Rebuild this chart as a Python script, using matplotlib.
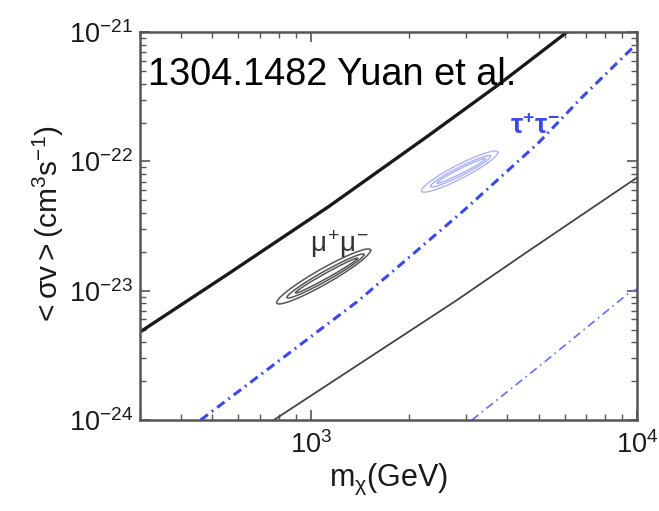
import matplotlib
matplotlib.use("Agg")
import matplotlib.pyplot as plt
import numpy as np

plt.rcParams['font.family'] = ['Liberation Sans', 'DejaVu Sans']
plt.rcParams['mathtext.fontset'] = 'custom'
plt.rcParams['mathtext.rm'] = 'Liberation Sans'
plt.rcParams['mathtext.it'] = 'Liberation Sans'
plt.rcParams['mathtext.bf'] = 'Liberation Sans:bold'

# Limit curves (mass in GeV, <sigma v> in cm^3/s)
mu_limit_m = [300, 560, 1136, 2300, 3776, 6100]
mu_limit_sv = [4.8e-24, 1.355e-23, 4.48e-23, 1.59e-22, 3.95e-22, 1.0e-21]

tau_limit_m = [460, 1403, 2944, 5000, 6780, 9660]
tau_limit_sv = [1.0e-24, 8.4e-24, 4.17e-23, 1.40e-22, 3.13e-22, 7.5e-22]

mu_low_m = [771, 2786, 4665, 10000]
mu_low_sv = [1.0e-24, 8.36e-24, 2.04e-23, 7.5e-23]

tau_low_m = [3120, 5260, 9440, 10000]
tau_low_sv = [1.0e-24, 2.87e-24, 9.6e-24, 1.03e-23]

# Fit contours: centre (GeV, cm^3/s), half width in x decades, log-log slope,
# half thickness in y decades, one entry per contour level
mu_fit_centre = [(1096, 1.29e-23), (1110, 1.30e-23), (1118, 1.31e-23)]
mu_fit_halfx = [0.144, 0.118, 0.095]
mu_fit_slope = 1.40
mu_fit_halfy = [0.068, 0.042, 0.022]

tau_fit_centre = [(2864, 8.35e-23), (2880, 8.4e-23), (2890, 8.45e-23)]
tau_fit_halfx = [0.117, 0.092, 0.074]
tau_fit_slope = 1.26
tau_fit_halfy = [0.060, 0.037, 0.021]

x_ticks = [1e3, 1e4]
x_ticklabels = [r'$10^{3}$', r'$10^{4}$']
y_ticks = [1e-24, 1e-23, 1e-22, 1e-21]
y_ticklabels = [r'$10^{-24}$', r'$10^{-23}$', r'$10^{-22}$', r'$10^{-21}$']


def contour_path(centre, halfx, slope, halfy):
    t = np.linspace(0, 2 * np.pi, 200)
    lx = np.log10(centre[0]) + halfx * np.cos(t)
    ly = np.log10(centre[1]) + slope * halfx * np.cos(t) + halfy * np.sin(t)
    return 10 ** lx, 10 ** ly


fig = plt.figure(figsize=(6.59, 5.11), dpi=100)
ax = fig.add_axes([0.2125, 0.178, 0.754, 0.759])

ax.set_xscale('log')
ax.set_yscale('log')
ax.set_xlim(300, 1e4)
ax.set_ylim(1e-24, 1e-21)

blue = '#3a48f0'
ax.plot(mu_limit_m, mu_limit_sv, color='#1a1a1a', lw=2.4, solid_joinstyle='round')
ax.plot(tau_limit_m, tau_limit_sv, color=blue, lw=2.2, dashes=(3.0, 1.6, 0.6, 1.6))
ax.plot(mu_low_m, mu_low_sv, color='#444444', lw=1.3)
ax.plot(tau_low_m, tau_low_sv, color='#6070ff', lw=1.2, dashes=(5.0, 2.6, 1.0, 2.6))

for c, hx, hy in zip(mu_fit_centre, mu_fit_halfx, mu_fit_halfy):
    cx, cy = contour_path(c, hx, mu_fit_slope, hy)
    ax.plot(cx, cy, color='#555555', lw=1.1)

for c, hx, hy in zip(tau_fit_centre, tau_fit_halfx, tau_fit_halfy):
    cx, cy = contour_path(c, hx, tau_fit_slope, hy)
    ax.plot(cx, cy, color='#aab2ff', lw=1.0)

ax.text(1227, 2.31e-23, r'$\mu^{+}\mu^{-}$', fontsize=20, color='#333333',
        ha='center', va='center')
ax.text(4860, 1.84e-22, r'$\mathbf{\tau^{+}\tau^{-}}$', fontsize=20, color=blue,
        ha='center', va='center')

ax.text(0.016, 0.863, '1304.1482 Yuan et al.', transform=ax.transAxes,
        fontsize=27.3, color='black', va='baseline', ha='left')

ax.set_xticks(x_ticks)
ax.set_xticklabels(x_ticklabels)
ax.set_yticks(y_ticks)
ax.set_yticklabels(y_ticklabels)

ax.tick_params(which='both', direction='in', top=True, right=True,
               color='#555555')
ax.tick_params(which='major', length=7, width=1.2, labelsize=19.5,
               labelcolor='#1a1a1a')
ax.tick_params(axis='x', which='major', pad=8)
ax.tick_params(axis='y', which='major', pad=5)
ax.tick_params(which='minor', length=4, width=1.0)

for sp in ax.spines.values():
    sp.set_color('#555555')
    sp.set_linewidth(1.8)

ax.set_xlabel(r'$\mathrm{m}_{\chi}$(GeV)', fontsize=22, color='#1a1a1a',
              labelpad=2)
ax.set_ylabel(r'$<\sigma v>(\mathrm{cm}^{3}\mathrm{s}^{-1})$', fontsize=21.5,
              color='#1a1a1a', labelpad=2)

fig.savefig('out.png', dpi=100)
